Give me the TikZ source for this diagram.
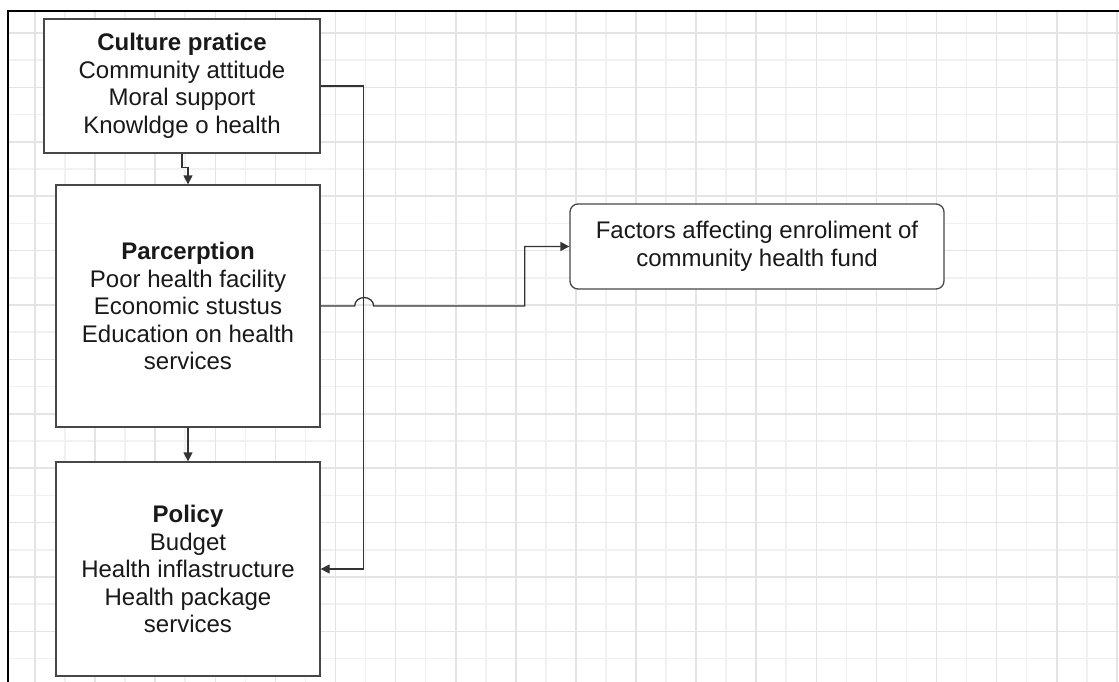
\documentclass[tikz,border=0pt]{standalone}
\usepackage{fontspec}
\setmainfont{Liberation Sans}
\usetikzlibrary{arrows.meta}

\definecolor{gridmajor}{HTML}{E4E4E4}
\definecolor{gridminor}{HTML}{F1F1F1}

\tikzset{
  factor/.style={draw=black!72, line width=1.3pt, fill=white, inner sep=0pt,
    minimum width=264pt, align=center, text=black!90,
    font=\fontsize{24}{27.5}\selectfont},
  outcome/.style={factor, rounded corners=8pt, minimum width=374pt, minimum height=85pt},
  link/.style={draw=black!80, line width=1.3pt, -{Triangle[length=9pt,width=9pt]}}
}

\begin{document}
\begin{tikzpicture}[x=1pt, y=1pt]
\useasboundingbox (0,0) rectangle (1119,-682);

% ========== background grid ==========
\begin{scope}
  \clip (8,-11) rectangle (1119,-682);
  % minor lines
  \foreach \i in {1,3,...,35} {
    \draw[gridminor, line width=1.6pt] ({35+30.05*\i},-11) -- ({35+30.05*\i},-682);
  }
  \foreach \j in {1,3,...,23} {
    \draw[gridminor, line width=1.6pt] (8,{-33-27.2*\j}) -- (1119,{-33-27.2*\j});
  }
  % major lines
  \foreach \i in {0,2,...,36} {
    \draw[gridmajor, line width=1.6pt] ({35+30.05*\i},-11) -- ({35+30.05*\i},-682);
  }
  \foreach \j in {0,2,...,22} {
    \draw[gridmajor, line width=1.6pt] (8,{-33-27.2*\j}) -- (1119,{-33-27.2*\j});
  }
\end{scope}

% page frame
\draw[black, line width=2.6pt] (8,-682) -- (8,-11) -- (1119,-11);

% ========== factor boxes ==========
\node[factor, minimum width=276pt, minimum height=134pt] (culture) at (182,-86)
  {\textbf{Culture pratice}\\Community attitude\\Moral support\\Knowldge o health};
\node[factor, minimum height=242pt] (perception) at (188,-306)
  {\textbf{Parcerption}\\Poor health facility\\Economic stustus\\Education on health\\services};
\node[factor, minimum height=214pt] (policy) at (188,-569)
  {\textbf{Policy}\\Budget\\Health inflastructure\\Health package\\services};
\node[outcome] (outcome) at (757,-246.5)
  {Factors affecting enroliment of\\community health fund};

% ========== connectors ==========
\draw[link] (culture.south) -- ++(0,-14) -| (perception.north);
\draw[link] (perception.south) -- (policy.north);
\draw[link] (culture.east) -- ++(43,0) |- (policy.east);
% line hops over the vertical one
\draw[link] (perception.east) -- ++(34,0)
  arc[start angle=180, end angle=0, x radius=9.5pt, y radius=8.5pt]
  -- ++(151,0) |- (outcome.west);

\end{tikzpicture}
\end{document}
